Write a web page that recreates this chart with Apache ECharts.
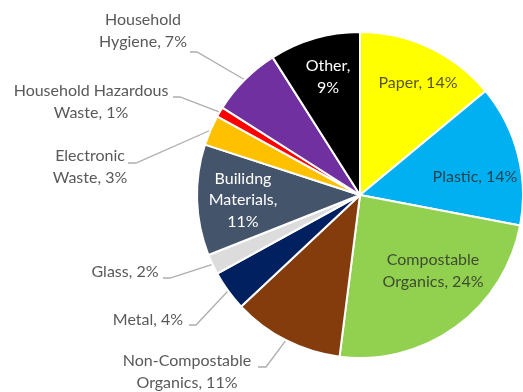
<!DOCTYPE html>
<html>
<head>
<meta charset="utf-8">
<script src="https://cdn.jsdelivr.net/npm/echarts@6/dist/echarts.min.js"></script>
<style>
  html, body { margin: 0; padding: 0; background: #ffffff; }
  #chart { width: 523px; height: 392px; }
</style>
</head>
<body>
<div id="chart"></div>
<script>
// Data (clockwise from 12 o'clock)
var categories = [
  'Paper', 'Plastic', 'Compostable\nOrganics', 'Non-Compostable\nOrganics',
  'Metal', 'Glass', 'Builidng\nMaterials', 'Electronic\nWaste',
  'Household Hazardous\nWaste', 'Household\nHygiene', 'Other'
];
var values = [14, 14, 24, 11, 4, 2, 11, 3, 1, 7, 9];
var colors = ['#FFFF00', '#00B0F0', '#92D050', '#843C0C', '#002060', '#DCDCDC',
              '#44546A', '#FFC000', '#FF0000', '#7030A0', '#000000'];
// label placement: 'in' = inside slice, 'out' = outside with leader line
var labelMode = ['in', 'in', 'in', 'out', 'out', 'out', 'in', 'out', 'out', 'out', 'in'];
var labelSep = [', ', ', ', ', ', ', ', ', ', ', ', ',\n', ', ', ', ', ', ', ',\n'];
var labelColor = ['rgba(38,38,38,0.78)', 'rgba(38,38,38,0.78)', 'rgba(38,38,38,0.78)', '#595959',
                  '#595959', '#595959', '#ffffff', '#595959', '#595959', '#595959', '#ffffff'];

// label anchor positions (text block centres) and leader-line elbows
var labelPos = [
  [418, 83], [475, 177], [433, 271], [187, 372], [148, 320], [125, 272],
  [243, 200], [90, 167], [91, 102], [143, 31], [328, 77]
];
var linePts = [
  null, null, null, [[266, 367], [258, 367]], [[196, 325], [189, 325]], [[170, 278], [163, 278]],
  null, [[136, 163], [128, 163]], [[180, 97], [173, 97]], [[197, 52], [190, 52]], null
];

var chart = echarts.init(document.getElementById('chart'), null, { renderer: 'canvas' });

var data = categories.map(function (name, i) {
  return {
    name: name,
    value: values[i],
    itemStyle: { color: colors[i] },
    label: {
      position: labelMode[i] === 'in' ? 'inside' : 'outside',
      color: labelColor[i],
      formatter: name.replace(/\n$/, '') + labelSep[i] + values[i] + '%'
    },
    labelLine: { show: labelMode[i] === 'out' }
  };
});

chart.setOption({
  animation: false,
  series: [{
    type: 'pie',
    center: [360, 195],
    radius: [0, 163],
    startAngle: 90,
    clockwise: true,
    data: data,
    itemStyle: { borderColor: '#ffffff', borderWidth: 2 },
    label: {
      fontFamily: 'Lato, "Open Sans", sans-serif',
      fontSize: 16,
      lineHeight: 21.5,
      align: 'center'
    },
    labelLine: {
      show: true,
      lineStyle: { color: '#ADADAD', width: 1.3 }
    },
    labelLayout: function (params) {
      var i = params.dataIndex;
      var p = labelPos[i];
      var res = { x: p[0], y: p[1], align: 'center', verticalAlign: 'middle' };
      if (linePts[i] && params.labelLinePoints) {
        var start = params.labelLinePoints[0];
        res.labelLinePoints = [start, linePts[i][0], linePts[i][1]];
      }
      return res;
    }
  }]
});
</script>
</body>
</html>
